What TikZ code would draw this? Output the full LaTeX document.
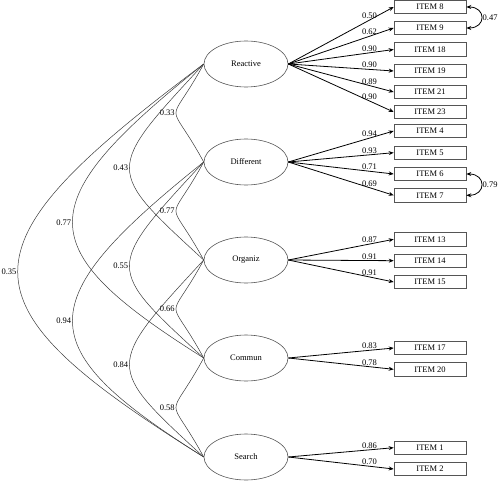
\documentclass[tikz,border=0pt]{standalone}
\usepackage{fontspec}
\setmainfont{Liberation Serif}
\usepackage{tikz}
\usetikzlibrary{shapes.geometric, arrows.meta}
\definecolor{edgegray}{RGB}{85, 85, 85}
\definecolor{curvegray}{RGB}{60, 60, 60}

\begin{document}
\begin{tikzpicture}[x=1pt, y=-1pt,
  latent/.style={ellipse, draw=edgegray, line width=0.6pt, minimum width=84pt, minimum height=46pt, inner sep=0pt, font=\fontsize{8.5}{10}\selectfont},
  itembox/.style={draw=edgegray, line width=0.6pt, minimum width=72pt, minimum height=13.5pt, inner sep=0pt, font=\fontsize{8.5}{10}\selectfont},
  load/.style={-{Stealth[length=5pt, width=4pt]}, line width=0.8pt},
  cov/.style={draw=curvegray, line width=0.5pt},
  errcov/.style={{Stealth[length=5pt, width=4pt]}-{Stealth[length=5pt, width=4pt]}, line width=0.8pt},
  est/.style={font=\fontsize{8.5}{10}\selectfont, inner sep=1pt}]
  \useasboundingbox (0, 0) rectangle (500, 481);

  % latent factors
  \node[latent] (react) at (246, 64) {Reactive};
  \node[latent] (diff) at (246, 162) {Different};
  \node[latent] (organ) at (246, 260) {Organiz};
  \node[latent] (commun) at (246, 358) {Commun};
  \node[latent] (search) at (246, 457) {Search};

  % items
  \node[itembox] (i8) at (430, 7) {ITEM 8};
  \node[itembox] (i9) at (430, 28) {ITEM 9};
  \node[itembox] (i18) at (430, 49.5) {ITEM 18};
  \node[itembox] (i19) at (430, 71) {ITEM 19};
  \node[itembox] (i21) at (430, 92) {ITEM 21};
  \node[itembox] (i23) at (430, 112) {ITEM 23};
  \node[itembox] (i4) at (430, 131) {ITEM 4};
  \node[itembox] (i5) at (430, 152.7) {ITEM 5};
  \node[itembox] (i6) at (430, 174) {ITEM 6};
  \node[itembox] (i7) at (430, 195.3) {ITEM 7};
  \node[itembox] (i13) at (430, 239.3) {ITEM 13};
  \node[itembox] (i14) at (430, 260.7) {ITEM 14};
  \node[itembox] (i15) at (430, 282) {ITEM 15};
  \node[itembox] (i17) at (430, 348) {ITEM 17};
  \node[itembox] (i20) at (430, 369.3) {ITEM 20};
  \node[itembox] (i1) at (430, 447.7) {ITEM 1};
  \node[itembox] (i2) at (430, 469) {ITEM 2};

  % loadings
  \draw[load] (react.east) -- (i8.west) node[pos=0.77, above, est] {0.50};
  \draw[load] (react.east) -- (i9.west) node[pos=0.77, above, est] {0.62};
  \draw[load] (react.east) -- (i18.west) node[pos=0.77, above, est] {0.90};
  \draw[load] (react.east) -- (i19.west) node[pos=0.77, above, est] {0.90};
  \draw[load] (react.east) -- (i21.west) node[pos=0.77, above, est] {0.89};
  \draw[load] (react.east) -- (i23.west) node[pos=0.77, above, est] {0.90};
  \draw[load] (diff.east) -- (i4.west) node[pos=0.77, above, est] {0.94};
  \draw[load] (diff.east) -- (i5.west) node[pos=0.77, above, est] {0.93};
  \draw[load] (diff.east) -- (i6.west) node[pos=0.77, above, est] {0.71};
  \draw[load] (diff.east) -- (i7.west) node[pos=0.77, above, est] {0.69};
  \draw[load] (organ.east) -- (i13.west) node[pos=0.77, above, est] {0.87};
  \draw[load] (organ.east) -- (i14.west) node[pos=0.77, above, est] {0.91};
  \draw[load] (organ.east) -- (i15.west) node[pos=0.77, above, est] {0.91};
  \draw[load] (commun.east) -- (i17.west) node[pos=0.77, above, est] {0.83};
  \draw[load] (commun.east) -- (i20.west) node[pos=0.77, above, est] {0.78};
  \draw[load] (search.east) -- (i1.west) node[pos=0.77, above, est] {0.86};
  \draw[load] (search.east) -- (i2.west) node[pos=0.77, above, est] {0.70};

  % error covariances
  \draw[errcov] (i8.east) .. controls +(20, 0) and +(20, 0) .. (i9.east) node[midway, right, est] {0.47};
  \draw[errcov] (i6.east) .. controls +(20, 0) and +(20, 0) .. (i7.east) node[midway, right, est] {0.79};

  % factor correlations
  \draw[cov] (react.west) .. controls +(-37, 68) and +(-37, -68) .. (diff.west) node[pos=0.5, left, est] {0.33};
  \draw[cov] (diff.west) .. controls +(-37, 68) and +(-37, -68) .. (organ.west) node[pos=0.5, left, est] {0.77};
  \draw[cov] (organ.west) .. controls +(-37, 68) and +(-37, -68) .. (commun.west) node[pos=0.5, left, est] {0.66};
  \draw[cov] (commun.west) .. controls +(-37, 68) and +(-37, -68) .. (search.west) node[pos=0.5, left, est] {0.58};
  \draw[cov] (react.west) .. controls +(-99, 107) and +(-99, -91) .. (organ.west) node[pos=0.5, left, est] {0.43};
  \draw[cov] (diff.west) .. controls +(-99, 107) and +(-99, -91) .. (commun.west) node[pos=0.5, left, est] {0.55};
  \draw[cov] (organ.west) .. controls +(-99, 107) and +(-99, -91) .. (search.west) node[pos=0.5, left, est] {0.84};
  \draw[cov] (react.west) .. controls +(-175, 140) and +(-175, -110) .. (commun.west) node[pos=0.5, left, est] {0.77};
  \draw[cov] (diff.west) .. controls +(-175, 140) and +(-175, -110) .. (search.west) node[pos=0.5, left, est] {0.94};
  \draw[cov] (react.west) .. controls +(-248, 185) and +(-248, -155) .. (search.west) node[pos=0.5, left, est] {0.35};
\end{tikzpicture}
\end{document}
